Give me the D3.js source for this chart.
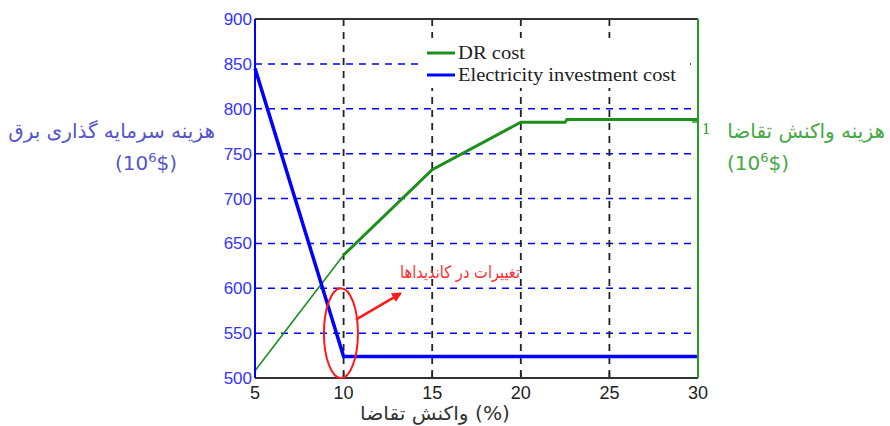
<!DOCTYPE html>
<html>

<head>
    <meta charset="utf-8">
    <script src="https://d3js.org/d3.v7.min.js"></script>
    <style>
        body {
            margin: 0;
            background: #ffffff;
        }

        svg text {
            font-family: "Liberation Sans", Arial, sans-serif;
        }

        .fa {
            font-family: "DejaVu Sans", sans-serif;
        }
    </style>
</head>

<body>
    <div id="chart"></div>

    <script>
        // demand response level (%)
        var drX = [5, 10, 15, 20, 22.5, 22.6, 30];
        var drCost = [508, 637, 732, 785, 785, 788, 788];

        var elecX = [5, 10, 30];
        var elecCost = [845, 524, 524];

        var xTicks = [5, 10, 15, 20, 25, 30];
        var yTicks = [500, 550, 600, 650, 700, 750, 800, 850, 900];

        var legendNames = ["DR cost", "Electricity investment cost"];

        var width = 890,
            height = 426;
        var margin = { top: 19, right: 192, bottom: 48, left: 255 };
        var innerW = width - margin.left - margin.right,
            innerH = height - margin.top - margin.bottom;

        var green = "#1c8f1c",
            blue = "#0000ff";

        var svg = d3.select("#chart")
            .append("svg")
            .attr("width", width)
            .attr("height", height);

        var defs = svg.append("defs");
        defs.append("marker")
            .attr("id", "arrow")
            .attr("viewBox", "0 0 10 10")
            .attr("refX", 8)
            .attr("refY", 5)
            .attr("markerWidth", 4)
            .attr("markerHeight", 4)
            .attr("orient", "auto")
            .append("path")
            .attr("d", "M0,0 L10,5 L0,10 z")
            .attr("fill", "#ff1a1a");

        var g = svg.append("g")
            .attr("transform", "translate(" + margin.left + "," + margin.top + ")");

        var x = d3.scaleLinear().domain([5, 30]).range([0, innerW]);
        var y = d3.scaleLinear().domain([500, 900]).range([innerH, 0]);

        // grid
        g.selectAll(".hgrid")
            .data(yTicks.filter(function(d) { return d > 500 && d < 900; }))
            .enter().append("line")
            .attr("x1", 0).attr("x2", innerW)
            .attr("y1", function(d) { return y(d); })
            .attr("y2", function(d) { return y(d); })
            .attr("stroke", blue)
            .attr("stroke-width", 1.5)
            .attr("stroke-dasharray", "7,6");

        g.selectAll(".vgrid")
            .data(xTicks.filter(function(d) { return d > 5 && d < 30; }))
            .enter().append("line")
            .attr("y1", 0).attr("y2", innerH)
            .attr("x1", function(d) { return x(d); })
            .attr("x2", function(d) { return x(d); })
            .attr("stroke", "#222")
            .attr("stroke-width", 1.8)
            .attr("stroke-dasharray", "7,6");

        // x ticks (inside)
        g.selectAll(".xt")
            .data(xTicks.filter(function(d) { return d > 5 && d < 30; }))
            .enter().append("line")
            .attr("x1", function(d) { return x(d); })
            .attr("x2", function(d) { return x(d); })
            .attr("y1", innerH).attr("y2", innerH - 6)
            .attr("stroke", "#222").attr("stroke-width", 1.5);

        // lines
        var line = d3.line()
            .x(function(d) { return x(d[0]); })
            .y(function(d) { return y(d[1]); });

        var drPts = drX.map(function(v, i) { return [v, drCost[i]]; });
        var elecPts = elecX.map(function(v, i) { return [v, elecCost[i]]; });

        g.append("path")
            .datum(drPts.filter(function(d) { return d[0] <= 10; }))
            .attr("d", line)
            .attr("fill", "none")
            .attr("stroke", green)
            .attr("stroke-width", 1.6);

        g.append("path")
            .datum(drPts.filter(function(d) { return d[0] >= 10; }))
            .attr("d", line)
            .attr("fill", "none")
            .attr("stroke", green)
            .attr("stroke-width", 3);

        g.append("path")
            .datum(elecPts)
            .attr("d", line)
            .attr("fill", "none")
            .attr("stroke", blue)
            .attr("stroke-width", 3.5)
            .attr("stroke-linejoin", "round");

        // frame
        g.append("line").attr("x1", 0).attr("x2", innerW).attr("y1", 0).attr("y2", 0)
            .attr("stroke", "#333").attr("stroke-width", 2);
        g.append("line").attr("x1", 0).attr("x2", innerW).attr("y1", innerH).attr("y2", innerH)
            .attr("stroke", "#333").attr("stroke-width", 2);
        g.append("line").attr("x1", 0).attr("x2", 0).attr("y1", 0).attr("y2", innerH)
            .attr("stroke", blue).attr("stroke-width", 2);
        g.append("line").attr("x1", innerW).attr("x2", innerW).attr("y1", 0).attr("y2", innerH)
            .attr("stroke", "#22a022").attr("stroke-width", 2);

        // right axis odd tick "1"
        g.append("line").attr("x1", innerW - 6).attr("x2", innerW).attr("y1", 103).attr("y2", 103)
            .attr("stroke", "#22a022").attr("stroke-width", 1.5);
        g.append("text")
            .attr("x", innerW + 4).attr("y", 115)
            .attr("fill", "#22a022")
            .style("font-family", "'Liberation Serif', serif")
            .style("font-size", "16px")
            .text("1");

        // tick labels
        g.selectAll(".ylab")
            .data(yTicks)
            .enter().append("text")
            .attr("x", -3)
            .attr("y", function(d) { return y(d) + 6; })
            .attr("text-anchor", "end")
            .attr("fill", "#3434ff")
            .style("font-size", "17px")
            .text(function(d) { return d; });

        g.selectAll(".xlab")
            .data(xTicks)
            .enter().append("text")
            .attr("x", function(d) { return x(d); })
            .attr("y", innerH + 21)
            .attr("text-anchor", "middle")
            .attr("fill", "#222")
            .style("font-size", "18px")
            .text(function(d) { return d; });

        // legend
        var legW = [67, 218];
        var leg = g.append("g").attr("transform", "translate(" + (418 - margin.left) + "," + (38 - margin.top) + ")");
        leg.append("rect")
            .attr("width", 272).attr("height", 50)
            .attr("fill", "#fff");
        [green, blue].forEach(function(c, i) {
            leg.append("line")
                .attr("x1", 9).attr("x2", 37)
                .attr("y1", 15 + i * 22).attr("y2", 15 + i * 22)
                .attr("stroke", c).attr("stroke-width", 3);
            leg.append("text")
                .attr("x", 40).attr("y", 21 + i * 22)
                .attr("fill", "#222")
                .attr("textLength", legW[i])
                .attr("lengthAdjust", "spacingAndGlyphs")
                .style("font-family", "'Liberation Serif', serif")
                .style("font-size", "18px")
                .text(legendNames[i]);
        });

        // annotation
        g.append("ellipse")
            .attr("cx", x(9.85)).attr("cy", y(550))
            .attr("rx", 17).attr("ry", 45)
            .attr("fill", "none")
            .attr("stroke", "#ff1a1a")
            .attr("stroke-width", 2);
        g.append("line")
            .attr("x1", x(9.85) + 15).attr("y1", y(565))
            .attr("x2", x(13.2)).attr("y2", y(594))
            .attr("stroke", "#ff1a1a")
            .attr("stroke-width", 2.5)
            .attr("marker-end", "url(#arrow)");

        svg.append("text")
            .attr("class", "fa")
            .attr("x", 400).attr("y", 278)
            .attr("fill", "#ff3030")
            .attr("textLength", 120)
            .attr("lengthAdjust", "spacingAndGlyphs")
            .style("font-size", "17px")
            .text("تغییرات در کاندیداها");

        // axis titles
        svg.append("text")
            .attr("class", "fa")
            .attr("fill", "#5555cc")
            .style("font-size", "20px")
            .attr("x", 215).attr("y", 138).attr("text-anchor", "end")
            .text("هزینه سرمایه گذاری برق");
        var l2 = svg.append("text").attr("class", "fa").attr("fill", "#5555cc")
            .style("font-size", "20px").attr("x", 115).attr("y", 170);
        l2.append("tspan").text("(10");
        l2.append("tspan").attr("dy", -8).style("font-size", "13px").text("6");
        l2.append("tspan").attr("dy", 8).text("$)");

        svg.append("text")
            .attr("class", "fa")
            .attr("fill", "#44a844")
            .style("font-size", "20px")
            .attr("x", 885).attr("y", 138).attr("text-anchor", "end")
            .text("هزینه واکنش تقاضا");
        var r2 = svg.append("text").attr("class", "fa").attr("fill", "#44a844")
            .style("font-size", "20px").attr("x", 727).attr("y", 170);
        r2.append("tspan").text("(10");
        r2.append("tspan").attr("dy", -8).style("font-size", "13px").text("6");
        r2.append("tspan").attr("dy", 8).text("$)");

        svg.append("text")
            .attr("class", "fa")
            .attr("fill", "#333")
            .style("font-size", "19px")
            .attr("x", 360).attr("y", 420)
            .attr("textLength", 150)
            .attr("lengthAdjust", "spacingAndGlyphs")
            .text("واکنش تقاضا  (%)");
    </script>

</body>

</html>
